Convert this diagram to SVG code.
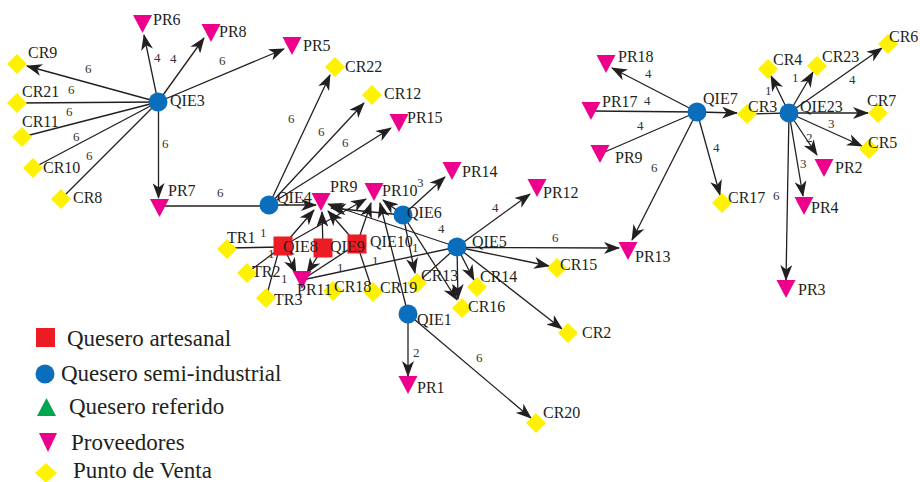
<svg xmlns="http://www.w3.org/2000/svg" xmlns:xlink="http://www.w3.org/1999/xlink" width="920" height="482" viewBox="0 0 920 482">
<style>
.e{stroke:#231f20;stroke-width:1.3;fill:none}
.a{marker-end:url(#ah)}
.n{font-family:"Liberation Serif","Times New Roman",serif;font-size:16px;fill:#231f20}
.w{font-family:"Liberation Serif","Times New Roman",serif;font-size:13px;fill:#333}
.lg{font-family:"Liberation Serif","Times New Roman",serif;font-size:23px;fill:#231f20}
.cir{fill:#0a6ebd}.sq{fill:#ed1c24}.tri{fill:#ec008c}.dia{fill:#fff200}.up{fill:#00a651}
</style>
<defs>
<marker id="ah" viewBox="0 0 16 12" refX="15" refY="6" markerWidth="16" markerHeight="12" markerUnits="userSpaceOnUse" orient="auto"><path d="M0,0 L16,6 L0,12 L4.5,6 z" fill="#231f20"/></marker>
<circle id="c" r="9.5" class="cir"/>
<rect id="s" x="-9.5" y="-9.5" width="19" height="19" class="sq"/>
<polygon id="t" points="-9.5,-9 9.5,-9 0,9" class="tri"/>
<polygon id="d" points="0,-10 10,0 0,10 -10,0" class="dia"/>
</defs>
<rect width="920" height="482" fill="#fff"/>
<g id="connectors">
<line class="e a" x1="158" y1="102" x2="27" y2="66"/>
<line class="e" x1="158" y1="102" x2="17" y2="103"/>
<line class="e" x1="158" y1="102" x2="22" y2="137"/>
<line class="e" x1="158" y1="102" x2="33" y2="168"/>
<line class="e" x1="158" y1="102" x2="61" y2="199"/>
<line class="e a" x1="158" y1="102" x2="144" y2="35"/>
<line class="e a" x1="158" y1="102" x2="204" y2="38"/>
<line class="e a" x1="158" y1="102" x2="284" y2="49"/>
<line class="e a" x1="158.5" y1="102" x2="158.5" y2="198"/>
<line class="e" x1="159" y1="206" x2="269" y2="206"/>
<line class="e a" x1="269" y1="205" x2="330" y2="75"/>
<line class="e a" x1="269" y1="205" x2="364" y2="103"/>
<line class="e a" x1="269" y1="205" x2="391" y2="128"/>
<line class="e a" x1="269" y1="205" x2="316" y2="205"/>
<line class="e" x1="227" y1="248" x2="283" y2="247"/>
<line class="e" x1="247" y1="273" x2="283" y2="246"/>
<line class="e" x1="266" y1="298" x2="280" y2="246"/>
<line class="e a" x1="283" y1="246" x2="296" y2="273"/>
<line class="e a" x1="283" y1="246" x2="314" y2="210"/>
<line class="e a" x1="283" y1="246" x2="366" y2="199"/>
<line class="e a" x1="323" y1="248" x2="307" y2="273"/>
<line class="e a" x1="323" y1="248" x2="322" y2="212"/>
<line class="e a" x1="357" y1="244" x2="328" y2="211"/>
<line class="e a" x1="357" y1="244" x2="371" y2="203"/>
<line class="e" x1="302" y1="280" x2="357" y2="244"/>
<line class="e" x1="302" y1="280" x2="457" y2="247"/>
<line class="e" x1="357" y1="244" x2="373" y2="292"/>
<line class="e a" x1="403" y1="215" x2="445" y2="177"/>
<line class="e a" x1="403" y1="215" x2="383" y2="200"/>
<line class="e a" x1="403" y1="215" x2="331" y2="208"/>
<line class="e a" x1="403" y1="215" x2="415" y2="273"/>
<line class="e a" x1="403" y1="215" x2="457" y2="300"/>
<line class="e a" x1="457" y1="247" x2="328" y2="204"/>
<line class="e a" x1="457" y1="247" x2="530" y2="194"/>
<line class="e a" x1="457" y1="247.5" x2="619" y2="248"/>
<line class="e a" x1="457" y1="247" x2="549" y2="266"/>
<line class="e a" x1="457" y1="247" x2="474" y2="280"/>
<line class="e a" x1="457" y1="247" x2="458" y2="299"/>
<line class="e a" x1="457" y1="247" x2="562" y2="329"/>
<line class="e" x1="457" y1="247" x2="417" y2="283"/>
<line class="e a" x1="408" y1="314" x2="380" y2="203"/>
<line class="e a" x1="408" y1="314" x2="408" y2="376"/>
<line class="e a" x1="408" y1="314" x2="531" y2="418"/>
<line class="e a" x1="697" y1="112" x2="612" y2="68"/>
<line class="e" x1="697" y1="112" x2="591" y2="111"/>
<line class="e" x1="697" y1="112" x2="600" y2="154"/>
<line class="e a" x1="697" y1="112" x2="720" y2="195"/>
<line class="e a" x1="697" y1="112" x2="632" y2="240"/>
<line class="e a" x1="697" y1="112" x2="737" y2="113"/>
<line class="e" x1="747" y1="114" x2="789" y2="113"/>
<line class="e a" x1="789" y1="113" x2="771" y2="76"/>
<line class="e a" x1="789" y1="113" x2="813" y2="72"/>
<line class="e a" x1="789" y1="113" x2="882" y2="48"/>
<line class="e a" x1="789" y1="113" x2="868" y2="113"/>
<line class="e a" x1="789" y1="113" x2="862" y2="146"/>
<line class="e a" x1="789" y1="113" x2="817" y2="155"/>
<line class="e a" x1="789" y1="113" x2="803" y2="196"/>
<line class="e a" x1="789" y1="113" x2="786" y2="280"/>
</g>
<g id="edge-labels">
<text class="w" x="85" y="73">6</text>
<text class="w" x="68" y="94">6</text>
<text class="w" x="66" y="116">6</text>
<text class="w" x="73" y="141">6</text>
<text class="w" x="86" y="160">6</text>
<text class="w" x="154" y="62">4</text>
<text class="w" x="170" y="63">4</text>
<text class="w" x="219" y="65">6</text>
<text class="w" x="162" y="148">6</text>
<text class="w" x="217" y="197">6</text>
<text class="w" x="288" y="123">6</text>
<text class="w" x="318" y="136">6</text>
<text class="w" x="342" y="147">6</text>
<text class="w" x="260" y="237">1</text>
<text class="w" x="268" y="258">1</text>
<text class="w" x="281" y="283">1</text>
<text class="w" x="337" y="272">1</text>
<text class="w" x="372" y="265">1</text>
<text class="w" x="412" y="252">1</text>
<text class="w" x="417" y="187">3</text>
<text class="w" x="438" y="233">4</text>
<text class="w" x="492" y="212">4</text>
<text class="w" x="552" y="242">6</text>
<text class="w" x="413" y="357">2</text>
<text class="w" x="476" y="362">6</text>
<text class="w" x="645" y="78">4</text>
<text class="w" x="644" y="105">4</text>
<text class="w" x="637" y="130">4</text>
<text class="w" x="651" y="172">6</text>
<text class="w" x="713" y="152">4</text>
<text class="w" x="765" y="95">1</text>
<text class="w" x="792" y="82">1</text>
<text class="w" x="849" y="84">4</text>
<text class="w" x="828" y="128">3</text>
<text class="w" x="806" y="142">2</text>
<text class="w" x="800" y="168">3</text>
<text class="w" x="773" y="200">6</text>
</g>
<g id="QIE3"><use href="#c" x="158" y="102"/><text class="n" x="170" y="106">QIE3</text></g>
<g id="CR9"><use href="#d" x="17" y="64"/><text class="n" x="28" y="58">CR9</text></g>
<g id="CR21"><use href="#d" x="17" y="103"/><text class="n" x="22" y="97">CR21</text></g>
<g id="CR11"><use href="#d" x="22" y="137"/><text class="n" x="22" y="127">CR11</text></g>
<g id="CR10"><use href="#d" x="33" y="168"/><text class="n" x="43" y="173">CR10</text></g>
<g id="CR8"><use href="#d" x="61" y="199"/><text class="n" x="73" y="203">CR8</text></g>
<g id="PR6"><use href="#t" x="142.5" y="24"/><text class="n" x="153" y="25">PR6</text></g>
<g id="PR8"><use href="#t" x="211" y="33"/><text class="n" x="219" y="37">PR8</text></g>
<g id="PR5"><use href="#t" x="292" y="46"/><text class="n" x="303" y="51">PR5</text></g>
<g id="PR7"><use href="#t" x="159.5" y="208"/><text class="n" x="168" y="196">PR7</text></g>
<g id="CR22"><use href="#d" x="335" y="67"/><text class="n" x="345" y="72">CR22</text></g>
<g id="CR12"><use href="#d" x="372" y="95"/><text class="n" x="384" y="99">CR12</text></g>
<g id="PR15"><use href="#t" x="399" y="123"/><text class="n" x="407" y="123">PR15</text></g>
<g id="PR9"><use href="#t" x="321" y="202"/><text class="n" x="330" y="192">PR9</text></g>
<g id="QIE4"><use href="#c" x="269" y="205"/><text class="n" x="277" y="203">QIE4</text></g>
<g id="PR10"><use href="#t" x="374" y="192"/><text class="n" x="382" y="196">PR10</text></g>
<g id="QIE6"><use href="#c" x="403" y="215"/><text class="n" x="407" y="218">QIE6</text></g>
<g id="QIE5"><use href="#c" x="457" y="247"/><text class="n" x="472" y="247">QIE5</text></g>
<g id="PR14"><use href="#t" x="452" y="171"/><text class="n" x="462" y="177">PR14</text></g>
<g id="PR12"><use href="#t" x="537" y="188"/><text class="n" x="543" y="198">PR12</text></g>
<g id="PR13"><use href="#t" x="628" y="251"/><text class="n" x="635" y="262">PR13</text></g>
<g id="CR15"><use href="#d" x="557" y="268"/><text class="n" x="560" y="270">CR15</text></g>
<g id="CR14"><use href="#d" x="477" y="287"/><text class="n" x="480" y="282">CR14</text></g>
<g id="CR13"><use href="#d" x="417" y="283"/><text class="n" x="421" y="281">CR13</text></g>
<g id="CR16"><use href="#d" x="462" y="308"/><text class="n" x="468" y="312">CR16</text></g>
<g id="CR19"><use href="#d" x="373" y="292"/><text class="n" x="380" y="293">CR19</text></g>
<g id="CR18"><use href="#d" x="333" y="291"/><text class="n" x="334" y="292">CR18</text></g>
<g id="QIE1"><use href="#c" x="408" y="314"/><text class="n" x="417" y="325">QIE1</text></g>
<g id="PR1"><use href="#t" x="408" y="385"/><text class="n" x="417" y="393">PR1</text></g>
<g id="CR20"><use href="#d" x="536" y="423"/><text class="n" x="543" y="418">CR20</text></g>
<g id="CR2"><use href="#d" x="568" y="333"/><text class="n" x="582" y="338">CR2</text></g>
<g id="QIE10"><use href="#s" x="357" y="244"/><text class="n" x="370" y="247">QIE10</text></g>
<g id="QIE9"><use href="#s" x="323" y="248"/><text class="n" x="330" y="252">QIE9</text></g>
<g id="QIE8"><use href="#s" x="283" y="246"/><text class="n" x="283" y="252">QIE8</text></g>
<g id="PR11"><use href="#t" x="302" y="280"/><text class="n" x="297" y="295">PR11</text></g>
<g id="TR1"><use href="#d" x="227" y="249"/><text class="n" x="227" y="243">TR1</text></g>
<g id="TR2"><use href="#d" x="247" y="273"/><text class="n" x="252" y="277">TR2</text></g>
<g id="TR3"><use href="#d" x="266" y="298"/><text class="n" x="274" y="305">TR3</text></g>
<g id="QIE7"><use href="#c" x="697" y="112"/><text class="n" x="703" y="104">QIE7</text></g>
<g id="PR18"><use href="#t" x="606" y="64"/><text class="n" x="618" y="62">PR18</text></g>
<g id="PR17"><use href="#t" x="591" y="111"/><text class="n" x="602" y="107">PR17</text></g>
<g id="PR9b"><use href="#t" x="600" y="154"/><text class="n" x="615" y="163">PR9</text></g>
<g id="CR17"><use href="#d" x="722" y="203"/><text class="n" x="728" y="203">CR17</text></g>
<g id="CR3"><use href="#d" x="747" y="114"/><text class="n" x="748" y="112">CR3</text></g>
<g id="QIE23"><use href="#c" x="789" y="113"/><text class="n" x="800" y="112">QIE23</text></g>
<g id="CR4"><use href="#d" x="768" y="69"/><text class="n" x="773" y="65">CR4</text></g>
<g id="CR23"><use href="#d" x="817" y="66"/><text class="n" x="822" y="62">CR23</text></g>
<g id="CR6"><use href="#d" x="888" y="44"/><text class="n" x="889" y="42">CR6</text></g>
<g id="CR7"><use href="#d" x="878" y="113"/><text class="n" x="867" y="106">CR7</text></g>
<g id="CR5"><use href="#d" x="869" y="149"/><text class="n" x="868" y="148">CR5</text></g>
<g id="PR2"><use href="#t" x="824" y="168"/><text class="n" x="835" y="173">PR2</text></g>
<g id="PR4"><use href="#t" x="804" y="206"/><text class="n" x="811" y="213">PR4</text></g>
<g id="PR3"><use href="#t" x="786" y="289"/><text class="n" x="798" y="295">PR3</text></g>
<g id="legend">
<rect x="36" y="328" width="19" height="19" class="sq"/><text class="lg" x="67" y="346">Quesero artesanal</text>
<circle cx="45" cy="374" r="9.5" class="cir"/><text class="lg" x="61" y="381">Quesero semi-industrial</text>
<polygon points="37,416 56,416 46.5,398" class="up"/><text class="lg" x="69" y="414">Quesero referido</text>
<polygon points="39,433 57,433 48,452" class="tri"/><text class="lg" x="71" y="450">Proveedores</text>
<polygon points="46,463 57,473 46,483 35,473" class="dia"/><text class="lg" x="73" y="478">Punto de Venta</text>
</g>
</svg>
